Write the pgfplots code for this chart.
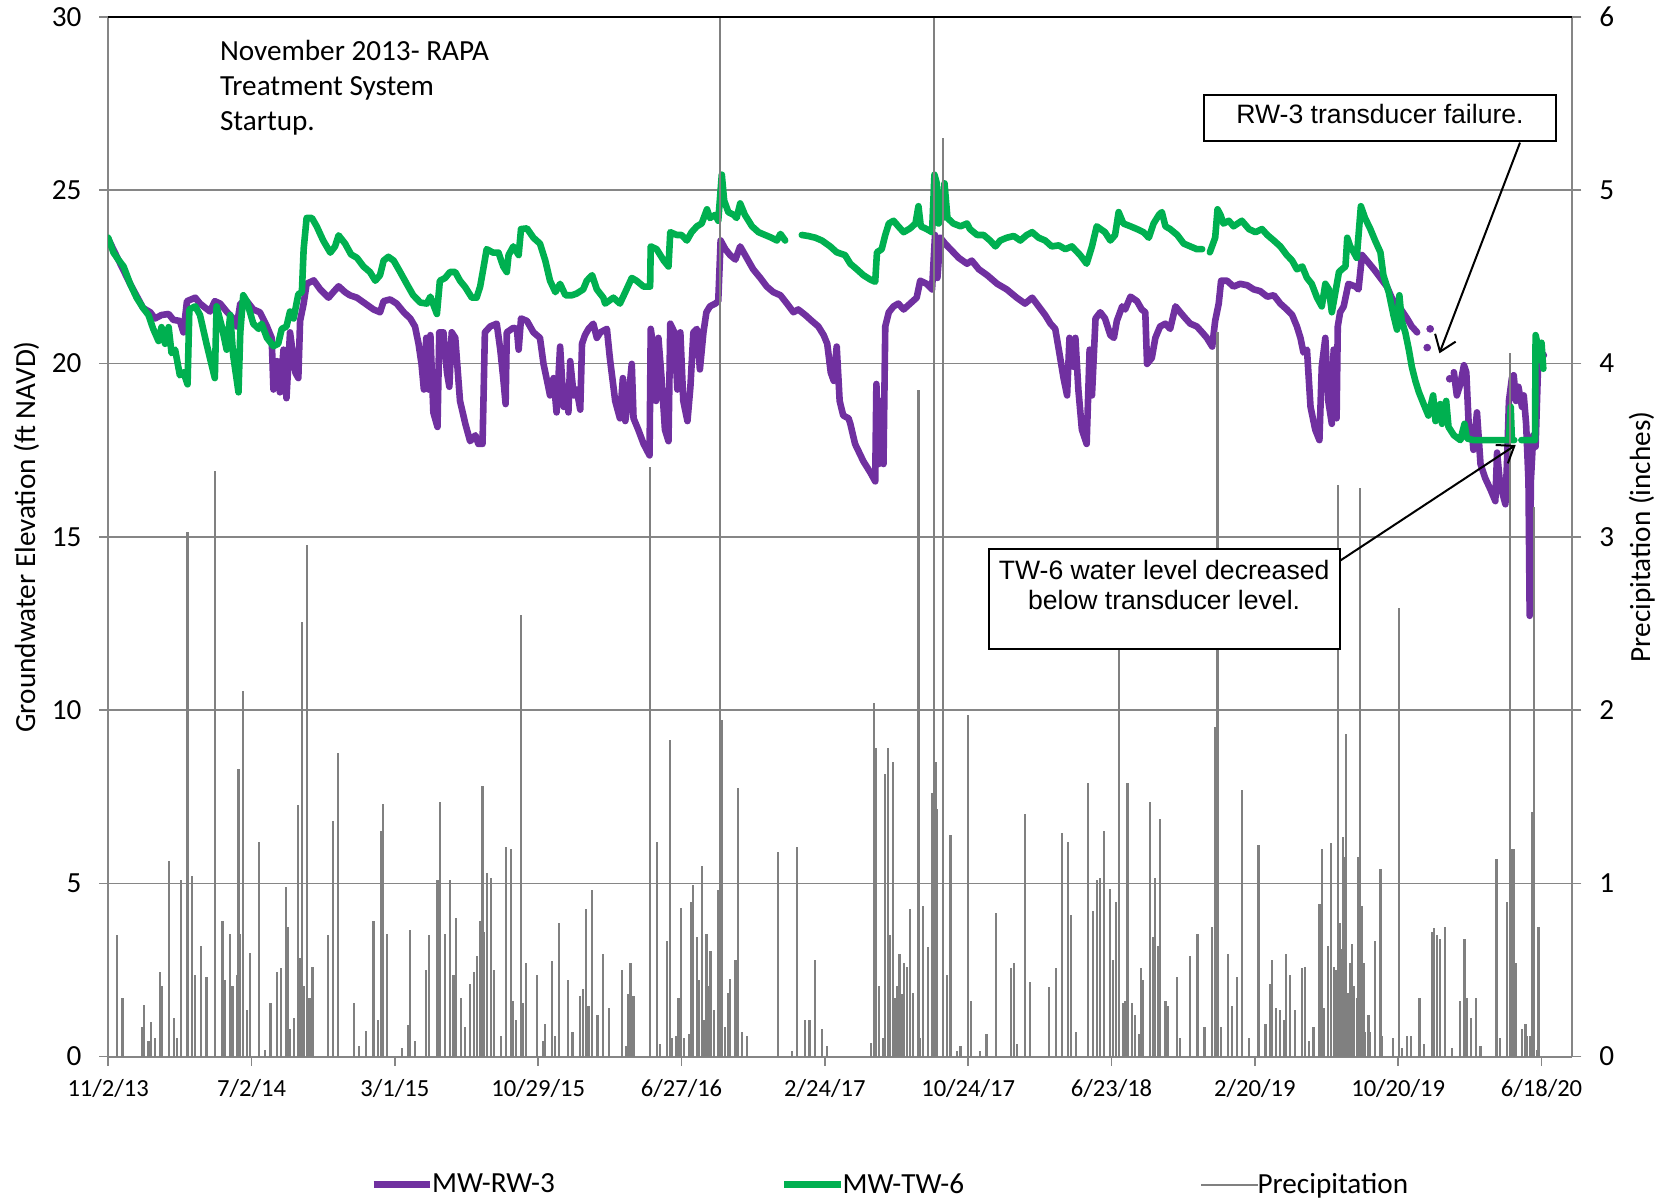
\documentclass[border=0pt]{standalone}
\usepackage{fontspec}
\setmainfont{Carlito}
\newfontfamily\arialf{Liberation Sans}
\usepackage{pgfplots}
\pgfplotsset{compat=1.18}
\usetikzlibrary{arrows.meta}
\definecolor{rwpurple}{RGB}{112,48,160}
\definecolor{twgreen}{RGB}{0,176,80}
\definecolor{precgray}{RGB}{128,128,128}
\definecolor{gridgray}{RGB}{134,134,134}
\newcommand{\tfont}{\fontsize{14.6}{17.5}\selectfont}
\newcommand{\xfont}{\fontsize{12.3}{14.8}\selectfont}
\newcommand{\afont}{\arialf\fontsize{13.3}{15.4}\selectfont}

\pgfplotstableread{
d v
0 23.63
9 23.2
17 23.0
26 22.8
37 22.3
48 21.9
59 21.6
68 21.4
76 21.0
85 20.65
90 21.05
96 20.57
102 21.05
107 20.3
113 20.4
121 19.66
127 19.75
134 19.4
137 21.56
147 21.65
155 21.4
166 20.57
180 19.58
183 21.65
192 21.05
200 20.4
206 21.4
211 20.24
220 19.17
223 20.9
228 21.97
234 21.8
245 21.15
254 21.0
259 21.15
268 20.74
279 20.5
287 20.57
293 21.0
301 21.07
307 21.5
313 21.3
321 22.0
327 22.06
330 23.3
335 24.2
344 24.2
352 23.96
363 23.55
375 23.2
383 23.38
389 23.7
400 23.46
410 23.15
420 23.05
431 22.8
442 22.64
451 22.39
459 22.55
465 22.97
473 23.08
482 22.97
493 22.64
504 22.3
515 21.97
527 21.76
538 21.73
544 21.93
549 21.7
555 21.43
560 22.39
569 22.47
577 22.64
586 22.64
594 22.39
603 22.2
614 21.9
622 21.9
628 22.22
634 22.8
639 23.3
650 23.2
659 23.2
667 22.8
673 22.64
676 23.13
684 23.38
693 23.13
697 23.88
707 23.9
718 23.63
729 23.46
738 22.97
746 22.39
755 22.06
763 22.3
772 21.97
783 21.97
791 22.02
802 22.14
808 22.39
817 22.55
825 22.14
836 21.9
839 21.73
853 21.9
864 21.73
873 22.06
884 22.47
892 22.39
904 22.22
915 22.22
916 23.38
926 23.3
938 22.97
946 22.8
949 23.79
960 23.71
968 23.71
977 23.55
985 23.79
994 23.96
1002 24.04
1011 24.45
1016 24.2
1025 24.29
1030 24.12
1036 25.45
1040 24.7
1047 24.37
1056 24.29
1061 24.2
1067 24.62
1075 24.29
1087 23.96
1098 23.79
1109 23.71
1120 23.63
1129 23.55
1135 23.74
1143 23.55
1155 nan
1171 23.71
1182 23.68
1194 23.63
1205 23.55
1219 23.38
1230 23.21
1244 23.13
1253 22.88
1264 22.72
1275 22.55
1287 22.42
1295 22.36
1298 23.21
1306 23.3
1312 23.71
1318 24.04
1326 24.12
1334 23.96
1343 23.79
1354 23.9
1363 24.04
1368 24.54
1372 23.96
1382 23.88
1391 23.79
1395 25.45
1399 25.2
1402 24.04
1408 24.2
1412 25.2
1417 24.2
1427 24.04
1439 23.96
1450 24.04
1455 23.88
1467 23.71
1478 23.71
1489 23.55
1498 23.38
1506 23.55
1517 23.63
1529 23.68
1540 23.55
1551 23.71
1560 23.79
1571 23.63
1582 23.55
1593 23.38
1605 23.41
1616 23.3
1627 23.38
1641 23.13
1652 22.88
1661 23.38
1669 23.96
1683 23.79
1692 23.55
1700 23.71
1706 24.37
1714 24.04
1726 23.96
1737 23.88
1748 23.79
1757 23.63
1765 24.04
1774 24.29
1779 24.37
1785 23.96
1793 23.88
1805 23.71
1816 23.46
1827 23.38
1838 23.3
1847 23.3
1852 nan
1860 23.21
1869 23.63
1873 24.45
1878 24.29
1883 24.04
1892 24.12
1900 23.96
1914 24.12
1926 23.88
1937 23.79
1948 23.88
1957 23.71
1968 23.55
1979 23.38
1990 23.13
1999 22.97
2007 22.72
2016 22.8
2024 22.47
2032 22.3
2041 21.9
2049 21.65
2055 22.3
2061 22.14
2066 21.48
2072 22.06
2078 22.64
2083 22.72
2089 22.8
2092 23.63
2097 23.38
2103 23.21
2108 23.05
2115 24.54
2122 24.2
2131 23.88
2139 23.55
2148 23.21
2153 22.55
2162 22.06
2170 21.4
2176 20.98
2180 21.97
2184 21.23
2190 20.9
2196 20.4
2201 19.91
2207 19.5
2213 19.17
2221 18.83
2229 18.5
2237 19.08
2241 18.34
2249 18.83
2252 18.26
2259 18.92
2263 18.17
2272 17.93
2283 17.79
2290 18.26
2294 17.84
2305 17.79
2365 17.79
2368 18.75
2370 17.79
2374 17.79
2380 nan
2386 17.79
2409 17.79
2410 20.82
2414 20.5
2417 20.1
2420 20.6
2423 19.85
}\twsix

\pgfplotstableread{
d v
0 23.6
17 23.0
37 22.3
59 21.6
71 21.48
79 21.3
90 21.4
102 21.43
110 21.26
121 21.23
127 20.9
133 21.8
147 21.9
155 21.73
172 21.5
180 21.8
189 21.73
200 21.5
211 21.3
217 21.07
223 21.73
234 21.8
245 21.56
256 21.48
268 21.07
276 20.74
279 19.25
285 20.07
290 19.17
296 20.4
301 19.0
307 20.9
316 19.74
321 19.58
324 21.23
330 21.73
335 22.3
347 22.4
358 22.14
372 21.9
380 22.06
389 22.23
400 22.06
408 21.97
420 21.9
434 21.73
448 21.56
459 21.48
465 21.8
476 21.85
487 21.73
499 21.48
510 21.3
518 21.07
524 20.57
529 19.99
533 19.25
537 20.74
541 19.25
544 20.82
549 18.59
556 18.17
559 20.9
566 20.9
572 19.74
576 19.33
580 20.9
586 20.74
590 19.83
594 18.92
603 18.26
611 17.76
620 17.93
625 17.68
632 17.68
634 19.25
636 20.9
645 21.07
656 21.15
662 20.4
667 19.58
671 18.83
673 20.9
684 21.03
690 21.0
693 20.4
697 21.3
707 21.23
718 20.9
729 20.74
735 19.99
741 19.5
746 19.08
752 19.58
757 18.59
763 20.49
769 18.75
773 19.33
777 18.59
780 20.07
786 19.08
791 19.25
797 18.67
800 20.57
805 20.82
811 21.0
819 21.15
825 20.74
831 20.9
842 21.0
847 20.16
856 18.92
864 18.42
869 19.58
873 18.34
878 18.92
884 19.99
887 18.42
895 18.09
904 17.68
914 17.35
916 21.0
921 20.4
925 18.92
929 20.74
935 19.41
940 18.09
946 17.76
949 21.15
956 20.9
961 19.25
966 20.9
971 18.92
978 18.34
983 19.33
988 20.9
994 21.0
999 19.83
1005 20.9
1010 21.48
1016 21.65
1025 21.73
1030 21.8
1034 23.55
1042 23.3
1050 23.13
1059 23.0
1067 23.38
1078 23.05
1089 22.72
1101 22.47
1112 22.22
1123 22.06
1135 21.97
1146 21.73
1157 21.48
1165 21.56
1177 21.4
1188 21.23
1199 21.07
1208 20.82
1214 20.57
1220 19.74
1225 19.5
1230 20.49
1235 18.92
1241 18.5
1250 18.42
1253 18.26
1261 17.68
1275 17.18
1287 16.85
1295 16.6
1297 19.41
1301 17.1
1305 18.92
1309 17.1
1312 21.07
1318 21.48
1326 21.65
1334 21.73
1343 21.56
1354 21.73
1365 21.9
1371 22.39
1382 22.3
1391 22.14
1396 23.71
1400 22.47
1405 23.63
1413 23.46
1422 23.3
1436 23.05
1450 22.88
1458 22.97
1470 22.72
1484 22.55
1501 22.3
1517 22.14
1534 21.9
1548 21.73
1560 21.9
1571 21.65
1582 21.4
1591 21.15
1599 21.0
1605 20.4
1613 19.58
1619 19.08
1623 20.74
1629 19.91
1633 20.74
1638 19.25
1644 18.09
1652 17.68
1657 20.4
1661 19.08
1667 21.3
1675 21.48
1683 21.3
1692 20.82
1698 20.74
1703 21.23
1712 21.65
1717 21.56
1726 21.93
1737 21.8
1745 21.56
1751 21.48
1754 19.99
1762 20.16
1768 20.74
1776 21.07
1785 21.15
1793 21.0
1802 21.65
1810 21.48
1819 21.3
1827 21.15
1838 21.07
1847 20.9
1855 20.74
1864 20.49
1869 21.23
1875 21.73
1879 22.39
1889 22.39
1900 22.22
1911 22.3
1923 22.26
1934 22.14
1945 22.09
1957 21.93
1968 21.97
1979 21.73
1990 21.56
1999 21.4
2007 21.07
2013 20.74
2018 20.32
2024 20.4
2030 18.75
2038 18.09
2045 17.79
2049 19.91
2055 20.74
2060 18.92
2063 18.59
2066 18.26
2069 20.4
2074 18.42
2076 21.07
2080 21.48
2086 21.65
2092 22.14
2094 22.3
2106 22.22
2111 22.14
2117 23.13
2125 22.97
2137 22.72
2148 22.47
2159 22.22
2167 21.9
2176 21.65
2184 21.53
2193 21.3
2201 21.07
2210 20.9
2216 nan
2272 19.75
2277 19.08
2283 19.41
2289 19.95
2293 19.75
2297 18.26
2303 17.93
2305 17.51
2311 18.59
2317 17.1
2325 16.69
2334 16.36
2342 16.03
2345 17.43
2350 16.52
2359 15.94
2362 17.27
2365 18.92
2370 19.58
2373 19.66
2377 18.92
2381 19.33
2387 18.75
2390 19.08
2394 18.26
2398 16.6
2400 12.72
2402 16.6
2406 17.93
2410 17.6
2415 20.4
2424 20.24
}\rwthree

\pgfplotstableread{
d v
15 0.70
24 0.34
57 0.17
61 0.30
68 0.09
72 0.20
79 0.11
88 0.49
90 0.41
102 1.13
111 0.22
116 0.11
123 1.02
134 3.03
141 1.04
147 0.47
157 0.64
166 0.46
180 3.38
193 0.78
197 0.44
206 0.71
210 0.41
217 0.47
220 1.66
223 0.71
227 2.11
234 0.27
240 0.60
255 1.24
265 0.04
274 0.31
285 0.49
292 0.51
300 0.98
304 0.75
307 0.16
314 0.22
321 1.45
324 0.57
327 2.51
331 0.41
335 2.95
340 0.34
345 0.52
371 0.70
380 1.36
388 1.75
415 0.31
423 0.06
435 0.15
448 0.78
456 0.21
460 1.30
464 1.46
471 0.71
496 0.05
507 0.18
510 0.73
518 0.09
537 0.50
542 0.70
556 1.02
560 1.47
569 0.71
577 1.02
583 0.47
587 0.80
596 0.34
603 0.17
611 0.42
618 0.49
622 0.58
628 0.78
632 1.56
635 0.72
639 1.06
646 1.03
652 0.50
663 0.12
671 1.21
680 1.20
684 0.32
689 0.21
697 2.55
701 0.31
706 0.54
724 0.47
734 0.09
738 0.19
749 0.55
755 0.12
761 0.77
776 0.44
784 0.14
797 0.35
801 0.39
807 0.85
811 0.29
817 0.96
826 0.24
836 0.59
845 0.28
867 0.50
874 0.06
877 0.36
882 0.54
887 0.35
915 3.40
927 1.24
931 0.07
943 0.67
948 1.83
952 0.11
959 0.12
963 0.34
967 0.86
972 0.11
980 0.13
984 0.89
987 0.99
994 0.69
998 0.44
1002 1.10
1006 0.21
1010 0.71
1013 0.41
1017 0.61
1023 0.27
1029 0.96
1033 7.00
1036 1.94
1042 0.17
1046 0.37
1050 0.45
1059 0.56
1064 1.55
1070 0.14
1078 0.12
1131 1.18
1154 0.03
1163 1.21
1177 0.21
1184 0.21
1194 0.56
1205 0.16
1214 0.06
1288 0.08
1293 2.04
1297 1.78
1301 0.41
1309 0.11
1312 1.63
1316 1.78
1320 0.70
1325 1.70
1329 0.34
1332 0.41
1336 0.59
1340 0.36
1344 0.54
1349 0.52
1354 0.85
1359 0.37
1368 3.85
1371 0.11
1376 0.87
1384 0.63
1391 1.52
1394 7.00
1398 1.70
1400 1.43
1409 5.30
1416 0.47
1422 1.28
1433 0.03
1439 0.06
1452 1.97
1457 0.32
1472 0.03
1483 0.13
1499 0.83
1524 0.51
1529 0.54
1534 0.07
1548 1.40
1557 0.43
1588 0.40
1600 0.51
1610 1.29
1620 1.24
1625 0.82
1634 0.14
1654 1.58
1663 0.84
1669 1.02
1674 1.03
1681 1.30
1691 0.97
1696 0.56
1702 0.89
1706 2.60
1713 0.31
1717 0.32
1721 1.58
1729 0.31
1734 0.24
1740 0.13
1744 0.51
1747 0.44
1759 1.47
1764 0.69
1768 1.03
1772 0.64
1776 1.37
1785 0.32
1790 0.29
1805 0.46
1810 0.11
1827 0.58
1839 0.71
1851 0.17
1864 0.75
1869 1.90
1873 4.18
1879 0.17
1890 0.59
1897 0.29
1906 0.46
1914 1.54
1926 0.11
1942 1.22
1954 0.19
1962 0.42
1965 0.56
1972 0.28
1979 0.27
1985 0.21
1989 0.59
1996 0.47
2004 0.27
2016 0.51
2020 0.52
2027 0.09
2035 0.17
2045 0.88
2049 1.20
2053 0.28
2059 0.64
2065 1.23
2069 0.52
2072 0.50
2076 3.30
2079 0.77
2082 0.62
2085 1.27
2087 1.15
2090 1.86
2094 0.37
2097 0.54
2100 0.65
2104 0.41
2108 0.34
2111 1.15
2114 3.28
2117 0.87
2120 0.54
2122 0.14
2128 0.24
2131 0.14
2139 0.67
2148 1.08
2151 0.12
2169 0.11
2179 2.59
2184 0.05
2193 0.12
2200 0.12
2214 0.34
2222 0.07
2235 0.72
2239 0.74
2243 0.70
2249 0.68
2257 0.75
2269 0.05
2283 0.32
2290 0.68
2294 0.34
2301 0.22
2309 0.34
2317 0.06
2344 1.14
2350 0.11
2362 0.89
2367 4.06
2370 1.20
2373 1.20
2377 0.54
2387 0.16
2393 0.19
2395 0.12
2400 0.12
2404 1.41
2407 3.17
2412 0.04
2415 0.75
}\precip

\begin{document}
\begin{tikzpicture}
\path[use as bounding box] (-54.1pt,-72.2pt) rectangle (777.4pt,528.3pt);
\begin{axis}[
  scale only axis, width=732.05pt, height=519.8pt,
  xmin=0, xmax=2472, ymin=0, ymax=30,
  axis x line*=bottom, axis y line*=left,
  axis line style={-, draw=gridgray, line width=0.9pt},
  xtick={0,242,...,2420},
  xticklabels={11/2/13,7/2/14,3/1/15,10/29/15,6/27/16,2/24/17,10/24/17,6/23/18,2/20/19,10/20/19,6/18/20},
  ytick={0,5,...,30},
  ymajorgrids, grid style={draw=gridgray, line width=0.8pt},
  tick align=outside, major tick length=4.5pt,
  tick style={draw=gridgray, line width=0.8pt},
  yticklabel style={font=\tfont, xshift=-5.3pt},
  xticklabel style={font=\xfont, yshift=-3.4pt},
  /pgf/number format/assume math mode=true,
  ylabel={Groundwater Elevation (ft NAVD)},
  ylabel style={font=\tfont, at={(axis description cs:-0.0558,0.5)}, anchor=center},
  unbounded coords=jump,
]
\addplot[rwpurple, line width=3.3pt, line join=round, line cap=round] table[x=d,y=v] {\rwthree};
\addplot[rwpurple, only marks, mark=*, mark size=1.7pt] coordinates {(2227,20.46) (2232,21.0) (2265,19.56)};
\addplot[twgreen, line width=3.3pt, line join=round, line cap=round] table[x=d,y=v] {\twsix};
\end{axis}
\begin{axis}[
  scale only axis, width=732.05pt, height=519.8pt,
  xmin=0, xmax=2472, ymin=0, ymax=6,
  hide x axis,
  axis y line*=right,
  axis line style={-, draw=gridgray, line width=0.9pt},
  ytick={0,1,...,6},
  tick align=outside, major tick length=4.5pt,
  tick style={draw=gridgray, line width=0.8pt},
  yticklabel style={font=\tfont, xshift=5.5pt},
  /pgf/number format/assume math mode=true,
  ylabel={Precipitation (inches)},
  ylabel style={font=\tfont, at={(axis description cs:1.0475,0.5)}, anchor=center},
  legend columns=3,
  legend image code/.code={\draw[#1] (0pt,0pt) -- (28.3pt,0pt);},
  legend style={draw=none, fill=none, font=\tfont, at={(axis description cs:0.1787,-0.1232)}, anchor=west, inner sep=0pt,
    /tikz/every odd column/.append style={column sep=-2.65pt},
    /tikz/column 2/.append style={column sep=111pt},
    /tikz/column 4/.append style={column sep=116pt}},
]
\addlegendimage{rwpurple, line width=3.3pt}
\addlegendentry{MW-RW-3}
\addlegendimage{twgreen, line width=3.3pt}
\addlegendentry{MW-TW-6}
\addplot[ycomb, precgray, line width=1.1pt] table[x=d,y=v] {\precip};
\addlegendentry{Precipitation}
\draw[black, line width=1pt] (rel axis cs:0,1) -- (rel axis cs:1,1);
\end{axis}
% annotations
\node[font=\tfont, anchor=base west, inner sep=0pt] at (55.7pt,498pt) {November 2013- RAPA};
\node[font=\tfont, anchor=base west, inner sep=0pt] at (55.7pt,480.5pt) {Treatment System};
\node[font=\tfont, anchor=base west, inner sep=0pt] at (55.7pt,463pt) {Startup.};
\node[draw=black, line width=1pt, fill=white, minimum width=176pt, minimum height=22.75pt, inner sep=0pt] at (635.9pt,469.2pt) {};
\node[font=\afont, anchor=base] at (635.9pt,466.7pt) {RW-3 transducer failure.};
\draw[line width=1pt, -{Straight Barb[length=7.5pt,width=11pt]}] (705.9pt,457pt) -- (665.6pt,351.65pt);
\node[draw=black, line width=1pt, fill=white, minimum width=175.5pt, minimum height=49.85pt, inner sep=0pt] at (527.95pt,228.7pt) {};
\node[font=\afont, anchor=base] at (527.95pt,238.7pt) {TW-6 water level decreased};
\node[font=\afont, anchor=base] at (527.95pt,223.5pt) {below transducer level.};
\draw[line width=1pt, -{Straight Barb[length=7.5pt,width=11pt]}] (615.7pt,247.8pt) -- (703.75pt,305.8pt);
\end{tikzpicture}
\end{document}
